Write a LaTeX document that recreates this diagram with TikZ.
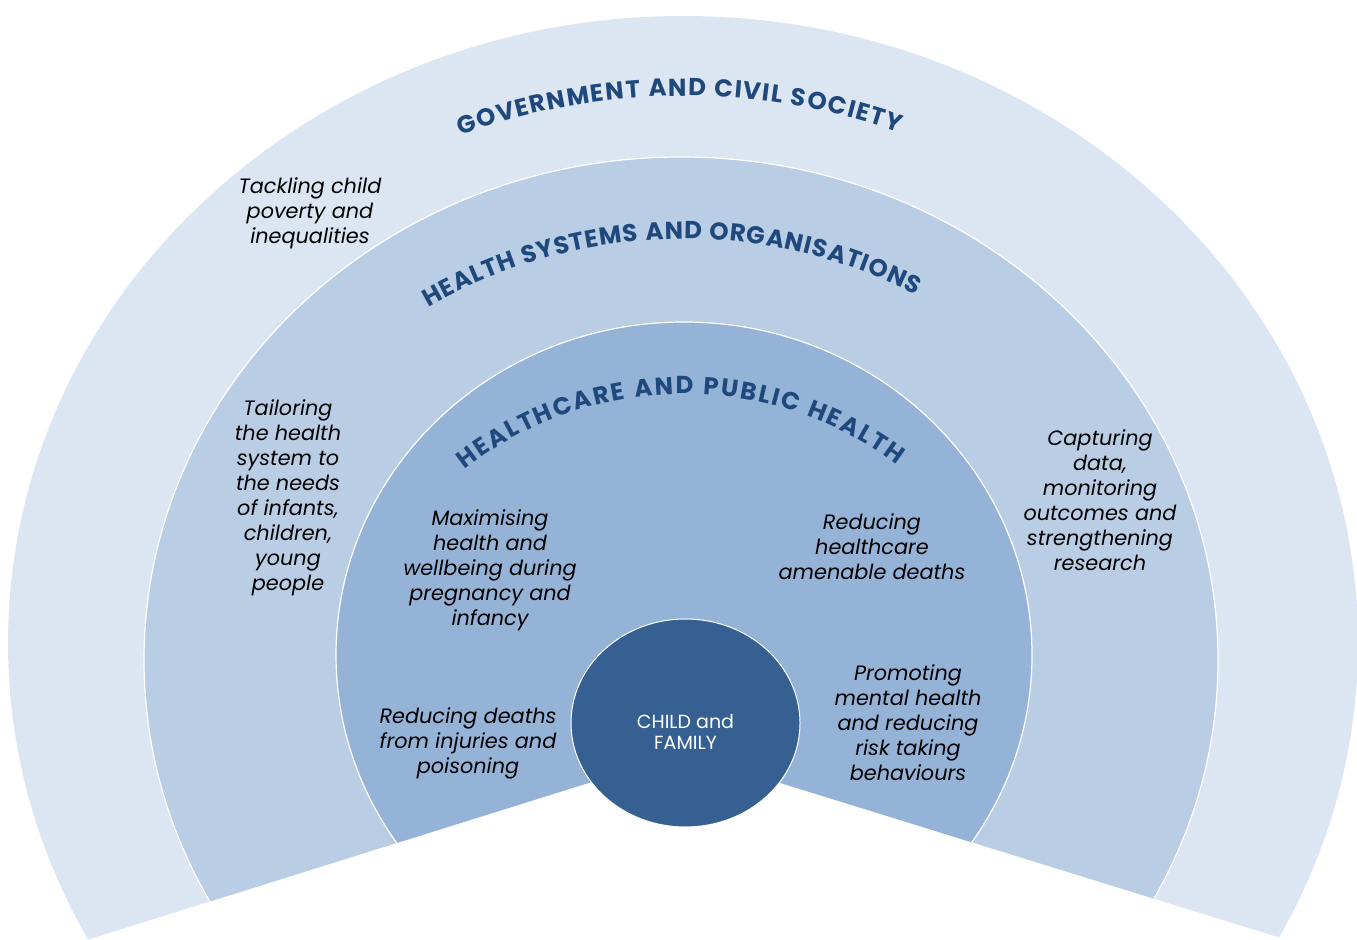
\documentclass[tikz,border=0pt]{standalone}
\usepackage{fontspec}
\setmainfont{Poppins}
\usetikzlibrary{decorations.text,shapes.geometric}
\definecolor{outerc}{HTML}{DCE6F2}
\definecolor{midc}{HTML}{B9CDE5}
\definecolor{innerc}{HTML}{95B3D7}
\definecolor{corec}{HTML}{366092}
\definecolor{titlec}{HTML}{1F497D}
\newcommand\ringtitlefont{\fontsize{24.5bp}{24.5bp}\selectfont\bfseries}
\begin{document}
\begin{tikzpicture}[x=1bp,y=1bp,
  ring/.style={draw=white, line width=1.2bp},
  body/.style={font=\fontsize{20.8bp}{25bp}\selectfont\itshape, align=center, text=black, inner sep=0pt},
  ringtitle/.style={decorate, decoration={text along path, text={|\ringtitlefont|#1}, text align={fit to path}, text color=titlec}},
  core/.style={ellipse, fill=corec, draw=white, line width=1bp, minimum width=229bp, minimum height=208bp, inner sep=0pt},
  coretext/.style={text=white, align=center, inner sep=0pt, font=\fontsize{19bp}{21bp}\selectfont}
]
\useasboundingbox (0,0) rectangle (1357,939);
\coordinate (apex) at (684,189);
\begin{scope}
  \clip (684,186) -- (-100,-59.5) -- (-100,1100) -- (1500,1100) -- (1500,-67) -- cycle;
  \fill[outerc] (683,296) ellipse [x radius=675, y radius=627];
  \filldraw[fill=midc, ring] (681,279) ellipse [x radius=537, y radius=503];
  \filldraw[fill=innerc, ring] (684,284) ellipse [x radius=348, y radius=333];
\end{scope}

\path[ringtitle={GOVERNMENT AND CIVIL SOCIETY}] (apex) ++(110:654) arc[start angle=110, end angle=70.8, radius=654];
\path[ringtitle={HEALTH SYSTEMS AND ORGANISATIONS}] (apex) ++(120:511) arc[start angle=120, end angle=63, radius=511];
\path[ringtitle={HEALTHCARE AND PUBLIC HEALTH}] (apex) ++(128:356) arc[start angle=128, end angle=53.3, radius=356];

\node[body] (t1) at (310,726) {Tackling child\\poverty and\\inequalities};
\node[body] (t2) at (288,441.5) {Tailoring\\the health\\system to\\the needs\\of infants,\\children,\\young\\people};
\node[body] (t3) at (490,369) {Maximising\\health and\\wellbeing during\\pregnancy and\\infancy};
\node[body] (t4) at (872,392) {Reducing\\healthcare\\amenable deaths};
\node[body] (t5) at (1100,438.5) {Capturing\\data,\\monitoring\\outcomes and\\strengthening\\research};
\node[body] (t6) at (468,196) {Reducing deaths\\from injuries and\\poisoning};
\node[body] (t7) at (908,216) {Promoting\\mental health\\and reducing\\risk taking\\behaviours};

\node[core] (child) at (685.5,216) {};
\node[coretext] (childlabel) at (685.5,207.5) {CHILD and\\FAMILY};
\end{tikzpicture}
\end{document}
